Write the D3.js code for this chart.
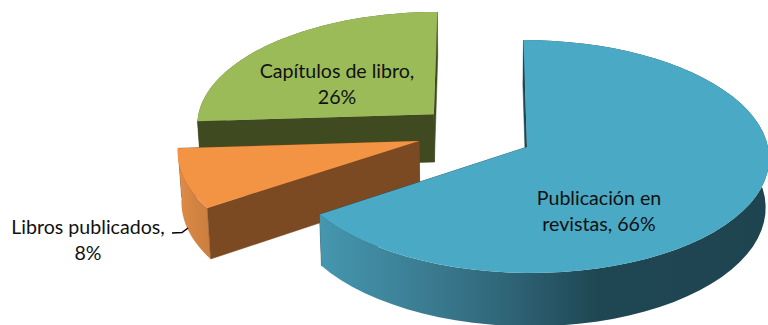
<!DOCTYPE html>
<html>
<head>
<meta charset="utf-8">
<script src="https://cdnjs.cloudflare.com/ajax/libs/d3/7.8.5/d3.min.js"></script>
<style>
  html, body { margin: 0; padding: 0; background: #fff; }
  svg { display: block; }
  text { font-family: Lato, "Open Sans", sans-serif; font-size: 19.6px; fill: #111; text-anchor: middle; }
</style>
</head>
<body>
<div id="chart"></div>
<script>
// Chart data, clockwise from 12 o'clock
const categories = ['Publicación en revistas', 'Libros publicados', 'Capítulos de libro'];
const shares = [65.6, 8.4, 26];
const labelLines = [['Publicación en', 'revistas,'], ['Libros publicados,'], ['Capítulos de libro,']];

// Colours per slice
const topColors = ['#4aa9c4', '#f39444', '#9bbb59'];
const edgeColors = ['#1f4651', '#7b4a22', '#3f4a20'];

// Layout: how far each slice is pulled out (unit = pie radius), label anchors in px
const explode = [[0.195, 0], [-0.254, -0.052], [-0.196, -0.29]];
const labelPos = [[599, 205], [88, 234], [337, 78]];

const width = 768, height = 325;
const vp = { x: 480, y: 147 };  // vanishing centre
const radiusX = 241, radiusY = 115.7, depth = 49;
const persp = 0.0816, shrink = 0.012;

const svg = d3.select('#chart').append('svg')
  .attr('width', width)
  .attr('height', height);

// Plane (x, y) + drop z (0 top, 1 bottom) to screen
function project(x, y, z) {
  const s = 1 / (1 - persp * y);
  const k = 1 - shrink * z;
  return [vp.x + radiusX * x * s * k, vp.y + radiusY * y * s + depth * z * s];
}

function rim(slice, i, z) {
  return d3.range(0, 61).map(t => {
    const a = slice.startAngle + (slice.endAngle - slice.startAngle) * t / 60;
    return project(explode[i][0] + Math.sin(a), explode[i][1] - Math.cos(a), z);
  });
}

const line = d3.line();

const defs = svg.append('defs');
const blueGrad = defs.append('linearGradient')
  .attr('id', 'blueWall')
  .attr('gradientUnits', 'userSpaceOnUse')
  .attr('x1', 320).attr('x2', 768).attr('y1', 0).attr('y2', 0);
[[0, '#4597af'], [0.27, '#39788d'], [0.42, '#2f6477'], [0.62, '#1f4753'], [1, '#1e4450']]
  .forEach(d => blueGrad.append('stop').attr('offset', d[0]).attr('stop-color', d[1]));

const orangeGrad = defs.append('linearGradient')
  .attr('id', 'orangeWall')
  .attr('gradientUnits', 'userSpaceOnUse')
  .attr('x1', 178).attr('x2', 208).attr('y1', 0).attr('y2', 0);
[[0, '#e08c46'], [0.5, '#d38443'], [1, '#cc7f40']]
  .forEach(d => orangeGrad.append('stop').attr('offset', d[0]).attr('stop-color', d[1]));

const arcFill = ['url(#blueWall)', 'url(#orangeWall)', '#55632b'];

const slices = d3.pie().sort(null).value(d => d)(shares);

// Back to front: green, orange, blue
[2, 1, 0].forEach(i => {
  const d = slices[i];
  const g = svg.append('g').attr('class', 'slice').attr('data-name', categories[i]);
  const apex0 = project(explode[i][0], explode[i][1], 0);
  const apex1 = project(explode[i][0], explode[i][1], 1);
  const top = rim(d, i, 0);
  const bottom = rim(d, i, 1);

  const cutWall = (a, b) => g.append('path')
    .attr('d', line([a, apex0, apex1, b]) + 'Z')
    .attr('fill', edgeColors[i])
    .attr('stroke', edgeColors[i])
    .attr('stroke-width', 0.5);

  // Far cut wall, curved wall, then near cut wall over it
  cutWall(top[60], bottom[60]);
  g.append('path')
    .attr('d', line(top.concat(bottom.slice().reverse())) + 'Z')
    .attr('fill', arcFill[i]);
  cutWall(top[0], bottom[0]);

  // Top surface
  g.append('path')
    .attr('d', line([apex0].concat(top)) + 'Z')
    .attr('fill', topColors[i]);
});

// Leader line of the small slice
svg.append('path')
  .attr('d', 'M172,233 L182,232.5 L188,228')
  .attr('fill', 'none')
  .attr('stroke', '#000')
  .attr('stroke-width', 1.5);

// Labels
shares.forEach((v, i) => {
  const lines = labelLines[i].slice();
  const pct = d3.format('.0f')(v) + '%';
  if (lines.length > 1) lines[1] += ' ' + pct; else lines.push(pct);
  const t = svg.append('text')
    .attr('x', labelPos[i][0])
    .attr('y', labelPos[i][1]);
  lines.forEach((l, n) => {
    t.append('tspan')
      .attr('x', labelPos[i][0])
      .attr('dy', n ? 26 : 0)
      .text(l);
  });
});
</script>
</body>
</html>
